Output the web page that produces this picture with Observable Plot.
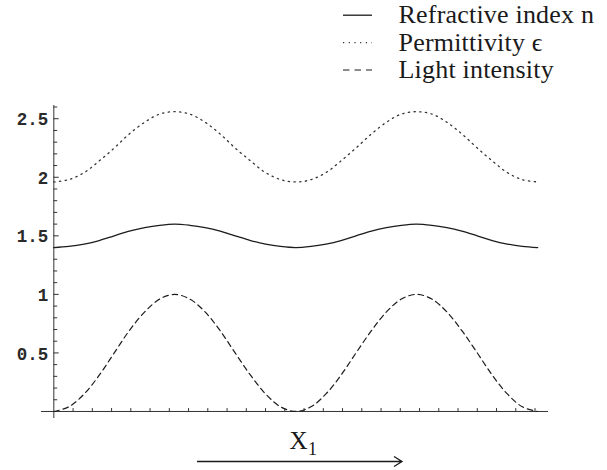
<!DOCTYPE html>
<html>
<head>
<meta charset="utf-8">
<script src="https://cdn.jsdelivr.net/npm/d3@7"></script>
<script src="https://cdn.jsdelivr.net/npm/@observablehq/plot@0.6"></script>
<style>
  body { margin: 0; background: #fff; }
  svg { display: block; }
</style>
</head>
<body>
<div id="legend"></div>
<div id="chart"></div>
<div id="caption"></div>
<script>
// Position along x1 (two periods of the interference pattern)
const xs = [0, 0.39, 0.79, 1.18, 1.57, 1.96, 2.36, 2.75, 3.14, 3.53, 3.93, 4.32, 4.71, 5.11, 5.50, 5.89,
            6.28, 6.68, 7.07, 7.46, 7.85, 8.25, 8.64, 9.03, 9.42, 9.82, 10.21, 10.60, 11.00, 11.39, 11.78, 12.17, 12.57];

// Light intensity (normalised)
const lightIntensity = [0, 0.04, 0.15, 0.31, 0.50, 0.69, 0.85, 0.96, 1.00, 0.96, 0.85, 0.69, 0.50, 0.31, 0.15, 0.04,
                        0, 0.04, 0.15, 0.31, 0.50, 0.69, 0.85, 0.96, 1.00, 0.96, 0.85, 0.69, 0.50, 0.31, 0.15, 0.04, 0];

// Refractive index n
const refractiveIndex = [1.40, 1.41, 1.43, 1.46, 1.50, 1.54, 1.57, 1.59, 1.60, 1.59, 1.57, 1.54, 1.50, 1.46, 1.43, 1.41,
                         1.40, 1.41, 1.43, 1.46, 1.50, 1.54, 1.57, 1.59, 1.60, 1.59, 1.57, 1.54, 1.50, 1.46, 1.43, 1.41, 1.40];

// Permittivity ϵ
const permittivity = [1.96, 1.98, 2.04, 2.14, 2.25, 2.37, 2.47, 2.54, 2.56, 2.54, 2.47, 2.37, 2.25, 2.14, 2.04, 1.98,
                      1.96, 1.98, 2.04, 2.14, 2.25, 2.37, 2.47, 2.54, 2.56, 2.54, 2.47, 2.37, 2.25, 2.14, 2.04, 1.98, 1.96];

// Axis ticks
const yMajorTicks = [0.5, 1, 1.5, 2, 2.5];
const yTickLabels = ["0.5", "1", "1.5", "2", "2.5"];
const yMinorTicks = [0.1, 0.2, 0.3, 0.4, 0.6, 0.7, 0.8, 0.9, 1.1, 1.2, 1.3, 1.4, 1.6, 1.7, 1.8, 1.9,
                     2.1, 2.2, 2.3, 2.4, 2.6];
const xTicks = [0.5, 1, 1.5, 2, 2.5, 3, 3.5, 4, 4.5, 5, 5.5, 6, 6.5, 7, 7.5, 8, 8.5, 9, 9.5, 10,
                10.5, 11, 11.5, 12, 12.5];

const seriesLabels = ["Refractive index n", "Permittivity ϵ", "Light intensity"];
const axisTitle = "X";
const axisTitleSub = "1";

const table = xs.map((x, i) => ({
  x,
  intensity: lightIntensity[i],
  n: refractiveIndex[i],
  eps: permittivity[i]
}));

const ink = "#1c1c1c";
const serif = "'Liberation Serif', 'Times New Roman', 'DejaVu Serif', serif";
const styles = [
  {dash: null, width: 1.3, color: ink},
  {dash: "1.3,4.4", width: 1.3, color: "#333"},
  {dash: "5.5,4", width: 1.2, color: ink}
];

// Tick drawn as a single stroke from the anchor point
const tickShape = {
  draw(context, l) { context.moveTo(0, 0); context.lineTo(0, -l); }
};

const chart = Plot.plot({
  width: 607,
  height: 330,
  marginLeft: 41,
  marginRight: 59,
  marginTop: 10,
  marginBottom: 7,
  x: {domain: [-0.32, 12.85], axis: null},
  y: {domain: [-0.06, 2.613], axis: null},
  marks: [
    Plot.ruleX([0], {stroke: "#333", strokeWidth: 1}),
    Plot.ruleY([0], {stroke: "#333", strokeWidth: 1}),
    Plot.vector(yMinorTicks, {x: () => 0, y: d => d, length: 3, rotate: 90, anchor: "start",
      shape: tickShape, stroke: "#333", strokeWidth: 1}),
    Plot.vector(yMajorTicks, {x: () => 0, y: d => d, length: 4.5, rotate: 90, anchor: "start",
      shape: tickShape, stroke: "#333", strokeWidth: 1}),
    Plot.vector(xTicks, {x: d => d, y: () => 0, length: 3, rotate: 0, anchor: "start",
      shape: tickShape, stroke: "#333", strokeWidth: 1}),
    Plot.text(yMajorTicks, {x: () => 0, y: d => d, text: (d, i) => yTickLabels[i],
      textAnchor: "end", dx: -5.5, dy: 1,
      fontFamily: "'Liberation Mono', 'Courier New', monospace",
      fontSize: 17.5, fontWeight: "bold", fill: "#2a2a2a"}),
    Plot.line(table, {x: "x", y: "eps", curve: "catmull-rom",
      stroke: styles[1].color, strokeWidth: styles[1].width, strokeDasharray: styles[1].dash, strokeLinecap: "round"}),
    Plot.line(table, {x: "x", y: "n", curve: "catmull-rom",
      stroke: styles[0].color, strokeWidth: styles[0].width}),
    Plot.line(table, {x: "x", y: "intensity", curve: "catmull-rom",
      stroke: styles[2].color, strokeWidth: styles[2].width, strokeDasharray: styles[2].dash})
  ]
});
document.getElementById("chart").append(chart);

// Legend above the plot
const legend = d3.create("svg").attr("width", 607).attr("height", 95);
const rows = legend.selectAll("g").data(seriesLabels).join("g")
  .attr("transform", (d, i) => `translate(0, ${i * 27.4})`);
rows.append("line")
  .attr("x1", 343).attr("x2", 372)
  .attr("y1", 15.2).attr("y2", 15.2)
  .attr("stroke", (d, i) => styles[i].color)
  .attr("stroke-width", (d, i) => styles[i].width)
  .attr("stroke-dasharray", (d, i) => [null, "1.2,4.5", "6.5,5"][i]);
rows.append("text")
  .attr("x", 398.5).attr("y", 23.3)
  .style("font-family", serif)
  .style("font-size", "26px")
  .style("letter-spacing", "0.2px")
  .attr("fill", "#1a1a1a")
  .text(d => d);
document.getElementById("legend").append(legend.node());

// Direction label and arrow below the plot
const caption = d3.create("svg").attr("width", 607).attr("height", 45);
const title = caption.append("text")
  .attr("x", 289.5).attr("y", 24)
  .style("font-family", serif)
  .style("font-size", "25px")
  .attr("fill", "#1a1a1a");
title.append("tspan").text(axisTitle);
title.append("tspan").style("font-size", "18px").attr("dy", 6).attr("dx", 0.5).text(axisTitleSub);
caption.append("path")
  .attr("d", "M197,36.5H402M394,31.5L402,36.5L394,41.5")
  .attr("fill", "none").attr("stroke", "#1a1a1a").attr("stroke-width", 1.3);
document.getElementById("caption").append(caption.node());
</script>
</body>
</html>
